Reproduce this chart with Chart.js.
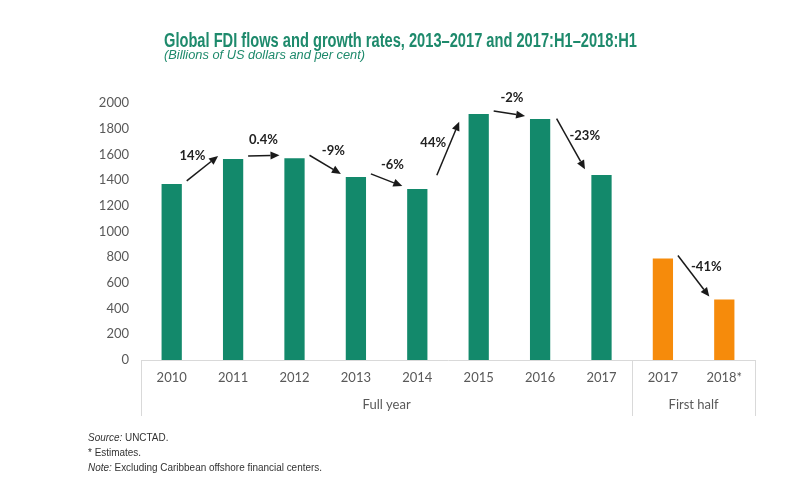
<!DOCTYPE html>
<html><head><meta charset="utf-8">
<script src="https://cdn.jsdelivr.net/npm/chart.js@4/dist/chart.umd.min.js"></script>
<style>html,body{margin:0;padding:0;background:#fff}#wrap{position:relative;width:800px;height:500px}</style>
</head><body><div id="wrap"><canvas id="c" width="800" height="500"></canvas></div>
<script>
// ---- data ----
const categories = ['2010','2011','2012','2013','2014','2015','2016','2017','2017','2018*'];
const fdiValues = [1370, 1565, 1570, 1425, 1330, 1915, 1875, 1440, 790, 470];
const groupLabels = ['Full year', 'First half'];
const groupSizes = [8, 2];
const growthFrom = [0, 1, 2, 3, 4, 5, 6, 8];
const growthTo   = [1, 2, 3, 4, 5, 6, 7, 9];
const growthLabels = ['14%', '0.4%', '-9%', '-6%', '44%', '-2%', '-23%', '-41%'];
const yMin = 0, yMax = 2000, yStep = 200;
const titleText = 'Global FDI flows and growth rates, 2013\u20132017 and 2017:H1\u20132018:H1';
const subtitleText = '(Billions of US dollars and per cent)';
const footnotes = [['Source:', ' UNCTAD.'], ['', '* Estimates.'], ['Note:', ' Excluding Caribbean offshore financial centers.']];

// ---- style ----
const groupColors = ['#13896B', '#F68B0B'];
const barColors = [];
groupSizes.forEach((n, g) => { for (let i = 0; i < n; i++) barColors.push(groupColors[g]); });
const tickFont = 'Lato, "Open Sans", sans-serif';
const narrow = '"Liberation Sans Narrow", "Arial Narrow", "Liberation Sans", sans-serif';
const titleColor = '#1E8A6C';

function drawScaled(ctx, text, x, y, font, s) {
  ctx.save();
  ctx.font = font;
  ctx.translate(x, y);
  ctx.scale(s, 1);
  ctx.fillText(text, 0, 0);
  ctx.restore();
}
function fitScale(ctx, text, font, target) {
  ctx.save(); ctx.font = font; const w = ctx.measureText(text).width; ctx.restore();
  return target / w;
}

const decor = {
  id: 'decor',
  afterDraw(chart) {
    const ctx = chart.ctx;
    const xs = chart.scales.x, ys = chart.scales.y;
    const area = chart.chartArea;
    const step = (area.right - area.left) / categories.length;

    // Title
    ctx.save();
    ctx.fillStyle = titleColor;
    ctx.textBaseline = 'alphabetic';
    ctx.textAlign = 'left';
    const tFont = 'bold 20px ' + narrow, sFont = 'italic 12px ' + narrow;
    const tx = 164;
    drawScaled(ctx, titleText, tx, 47, tFont, fitScale(ctx, titleText, tFont, 473));
    drawScaled(ctx, subtitleText, tx, 59, sFont, fitScale(ctx, subtitleText, sFont, 201));
    ctx.restore();

    // group separators and labels
    ctx.save();
    ctx.strokeStyle = '#D9D9D9';
    ctx.lineWidth = 1;
    let start = 0;
    const bounds = [area.left];
    groupSizes.forEach(n => { start += n; bounds.push(area.left + start * step); });
    bounds.forEach(bx => {
      const px = Math.round(bx) + 0.5;
      ctx.beginPath(); ctx.moveTo(px, area.bottom); ctx.lineTo(px, area.bottom + 56); ctx.stroke();
    });
    ctx.fillStyle = '#595959';
    ctx.font = '13px ' + tickFont;
    ctx.textAlign = 'center';
    ctx.textBaseline = 'middle';
    groupLabels.forEach((lab, g) => {
      ctx.fillText(lab, (bounds[g] + bounds[g + 1]) / 2, area.bottom + 45);
    });
    ctx.restore();

    // growth arrows
    ctx.save();
    ctx.strokeStyle = '#1A1A1A';
    ctx.fillStyle = '#1A1A1A';
    ctx.lineWidth = 1.5;
    growthFrom.forEach((a, k) => {
      const b = growthTo[k];
      let x1 = xs.getPixelForValue(a) + 15, y1 = ys.getPixelForValue(fdiValues[a]) - 3;
      let x2 = xs.getPixelForValue(b) - 15, y2 = ys.getPixelForValue(fdiValues[b]) - 3;
      let dx = x2 - x1, dy = y2 - y1, len = Math.hypot(dx, dy);
      const ux = dx / len, uy = dy / len;
      const mx = (x1 + x2) / 2, my = (y1 + y2) / 2;
      const maxLen = 58;
      if (len > maxLen) {
        x1 = mx - ux * maxLen / 2; y1 = my - uy * maxLen / 2;
        x2 = mx + ux * maxLen / 2; y2 = my + uy * maxLen / 2;
      }
      const head = 9, hw = 4;
      const bx = x2 - ux * head, by = y2 - uy * head;
      ctx.beginPath(); ctx.moveTo(x1, y1); ctx.lineTo(bx, by); ctx.stroke();
      ctx.beginPath();
      ctx.moveTo(x2, y2);
      ctx.lineTo(bx - uy * hw, by + ux * hw);
      ctx.lineTo(bx + uy * hw, by - ux * hw);
      ctx.closePath(); ctx.fill();
      const nx = uy, ny = -ux;
      ctx.font = 'bold 13px ' + tickFont;
      ctx.textAlign = 'center';
      ctx.textBaseline = 'middle';
      ctx.fillStyle = '#222';
      ctx.fillText(growthLabels[k], mx + nx * 16, my + ny * 16);
      ctx.fillStyle = '#1A1A1A';
    });
    ctx.restore();

    // footnotes
    ctx.save();
    ctx.fillStyle = '#333';
    ctx.textAlign = 'left';
    ctx.textBaseline = 'alphabetic';
    const fi = 'italic 11.5px ' + narrow, fr = '11.5px ' + narrow;
    ctx.font = fi; const wN = ctx.measureText('Note:').width;
    ctx.font = fr; const wR = ctx.measureText(footnotes[2][1]).width;
    const fs = 234 / (wN + wR);
    footnotes.forEach((parts, i) => {
      const y = 441 + i * 15;
      let x = 88;
      if (parts[0]) {
        drawScaled(ctx, parts[0], x, y, fi, fs);
        ctx.font = fi; x += ctx.measureText(parts[0]).width * fs;
      }
      drawScaled(ctx, parts[1], x, y, fr, fs);
    });
    ctx.restore();
  }
};

new Chart(document.getElementById('c'), {
  type: 'bar',
  data: {
    labels: categories,
    datasets: [{
      data: fdiValues,
      backgroundColor: barColors,
      borderWidth: 0,
      barPercentage: 0.33,
      categoryPercentage: 1
    }]
  },
  options: {
    responsive: false,
    animation: false,
    devicePixelRatio: 1,
    layout: { padding: { top: 103, right: 45, bottom: 84, left: 0 } },
    plugins: { legend: { display: false }, tooltip: { enabled: false }, title: { display: false } },
    scales: {
      x: {
        grid: { display: false, drawTicks: false },
        border: { display: true, color: '#D9D9D9', width: 1 },
        ticks: { color: '#595959', font: { family: tickFont, size: 13 }, padding: 10, maxRotation: 0, autoSkip: false },
        afterFit(axis) { axis.height = 56; }
      },
      y: {
        min: yMin, max: yMax,
        grid: { display: false, drawTicks: false },
        border: { display: false },
        ticks: { stepSize: yStep, color: '#595959', font: { family: tickFont, size: 13 }, padding: 12, callback: v => String(v) },
        afterFit(axis) { axis.width = 141; }
      }
    }
  },
  plugins: [decor]
});
</script>
</body></html>
